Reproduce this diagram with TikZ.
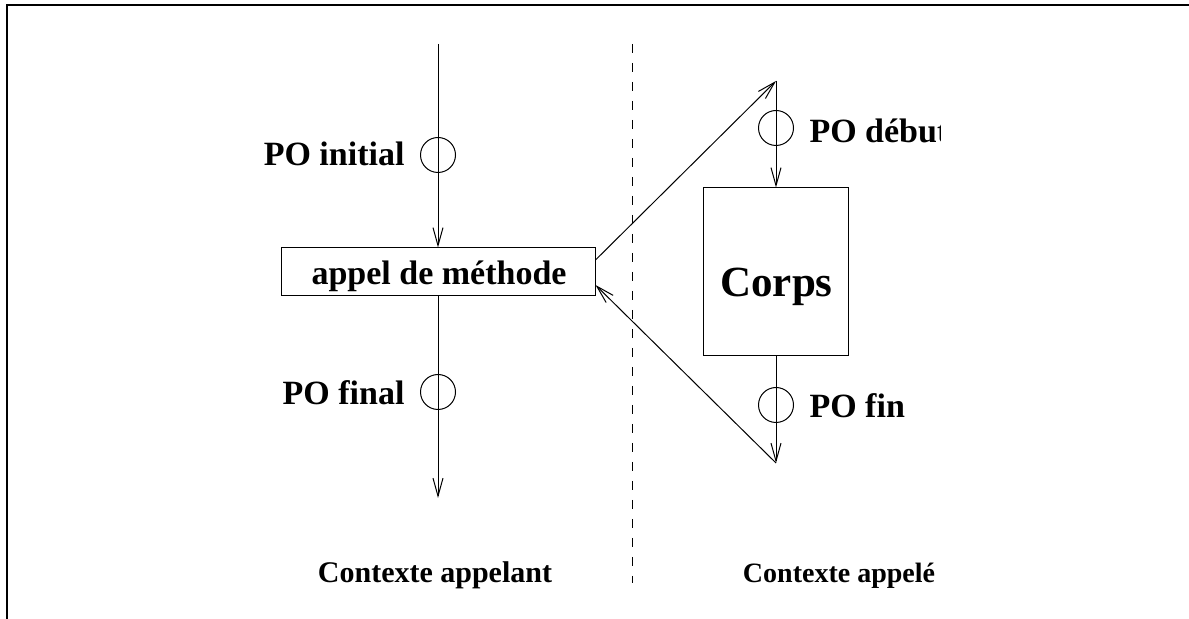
\documentclass[tikz,border=0pt]{standalone}
\usepackage{fontspec}
\setmainfont{Liberation Serif}
\usetikzlibrary{arrows.meta,calc}
\begin{document}
\begin{tikzpicture}[x=0.5pt,y=-0.5pt,
  line width=0.5pt,
  arr/.style={-{Straight Barb[length=9pt,width=5pt,line width=0.5pt]}},
  rbox/.style={draw,inner sep=0pt},
  po/.style={draw,circle,minimum size=17.5pt,inner sep=0pt},
  polabel/.style={inner sep=0pt,font=\fontsize{17pt}{19pt}\selectfont\bfseries},
  ctx/.style={inner sep=0pt,anchor=base,font=\fontsize{15pt}{17pt}\selectfont\bfseries}]
\useasboundingbox (0,0) rectangle (1189,619);
% frame: top and left edges only
\draw[line width=1pt] (7,619) -- (7,5) -- (1189,5);

% caller side
\node[rbox,minimum width=157pt,minimum height=24pt] (appel) at (438,272) {};
\node[inner sep=0pt,anchor=base,font=\fontsize{17pt}{19pt}\selectfont\bfseries] (appeltxt) at (439,285) {appel de méthode};
\coordinate (start) at (438,44);
\coordinate (end) at (438,498);
\node[po] (poinit) at (438,155) {};
\node[po] (pofinal) at (438,392) {};
\node[polabel,anchor=east] (lblinit) at (405,154) {PO initial};
\node[polabel,anchor=east] (lblfinal) at (405,393) {PO final};
\draw[arr] (start) -- (appel.north);
\draw[arr] (appel.south) -- (end);

% separator
\coordinate (sepA) at (632,44);
\coordinate (sepB) at (632,583);
\draw[dash pattern=on 4.5pt off 5pt] (sepA) -- (sepB);

% callee side
\coordinate (apexT) at (776,81);
\coordinate (apexB) at (776,463);
\node[rbox,minimum width=72.5pt,minimum height=84pt] (corps) at (776,272) {};
\node[inner sep=0pt,anchor=base,font=\fontsize{21.5pt}{24pt}\selectfont\bfseries] (corpstxt) at (776.5,297) {Corps};
\node[po] (podebut) at (776,128) {};
\node[po] (pofin) at (776,405) {};
\begin{scope}
  \clip (790,100) rectangle (940,165);
  \node[polabel,anchor=west] (lbldebut) at (809,131) {PO début};
\end{scope}
\node[polabel,anchor=west] (lblfin) at (809,406) {PO fin};
\draw[arr] ([yshift=6pt]appel.east) -- (apexT);
\draw[arr] (apexT) -- (corps.north);
\draw[arr] (corps.south) -- (apexB);
\draw[arr] (apexB) -- ([yshift=-6.5pt]appel.east);

% context captions
\node[ctx] (ctxL) at (435,583) {Contexte appelant};
\node[ctx,font=\fontsize{14pt}{16pt}\selectfont\bfseries] (ctxR) at (839,583) {Contexte appelé};
\end{tikzpicture}
\end{document}
